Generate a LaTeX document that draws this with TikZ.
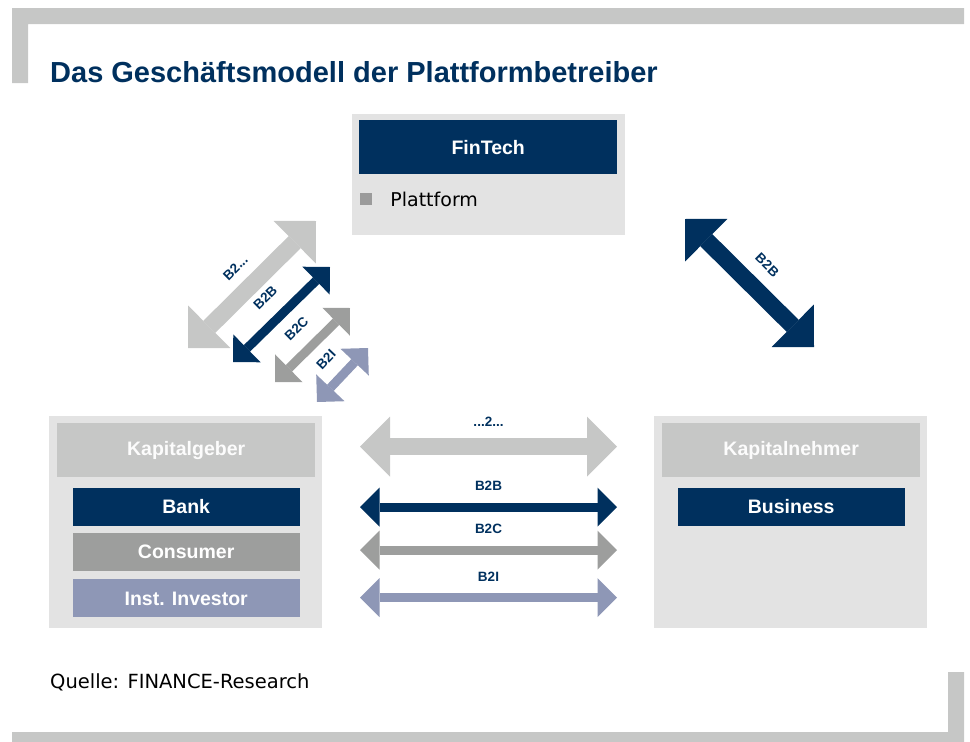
\documentclass[tikz,border=0pt]{standalone}
\usepackage{fontspec}
\setmainfont{Liberation Sans}
\newfontfamily\regfont{DejaVu Sans}
\usetikzlibrary{positioning,arrows.meta}

\definecolor{finblue}{HTML}{00305E}
\definecolor{bggrey}{HTML}{E3E3E3}
\definecolor{headgrey}{HTML}{C6C7C6}
\definecolor{midgrey}{HTML}{9D9E9D}
\definecolor{invblue}{HTML}{8E97B6}
\definecolor{bulletgrey}{HTML}{9B9B9B}

\tikzset{
  panel/.style={fill=bggrey, anchor=north west, inner sep=0pt, minimum width=273pt},
  headbox/.style={fill=headgrey, text=white!95!headgrey, font=\bfseries\fontsize{19.5}{22}\selectfont, inner sep=0pt, minimum width=258pt, minimum height=54pt},
  rolebox/.style={fill=#1, text=white, font=\bfseries\fontsize{19.5}{22}\selectfont, inner sep=0pt, minimum width=227pt, minimum height=38pt},
  lbl/.style={font=\bfseries\fontsize{13.5}{15}\selectfont, text=finblue, inner sep=0pt},
  bigarrow/.style={draw=#1, line width=17pt, {Triangle[width=60pt,length=30pt,line width=0pt]}-{Triangle[width=60pt,length=30pt,line width=0pt]}},
  smallarrow/.style={draw=#1, line width=9pt, {Triangle[width=39pt,length=19.5pt,line width=0pt]}-{Triangle[width=39pt,length=19.5pt,line width=0pt]}}
}

\begin{document}
\begin{tikzpicture}[x=1pt, y=-1pt]
\useasboundingbox (0,0) rectangle (970,742);

\fill[headgrey] (12,8) -- (964,8) -- (964,24) -- (28,24) -- (28,83) -- (12,83) -- cycle;
\fill[headgrey] (12,732) -- (948,732) -- (948,672) -- (964,672) -- (964,742) -- (12,742) -- cycle;

\node[anchor=base west, font=\bfseries\fontsize{29}{34}\selectfont, text=finblue, inner sep=0pt] (titel) at (50,82) {Das Geschäftsmodell der Plattformbetreiber};

\node[panel, minimum height=121pt] (fintechpanel) at (352,114) {};
\node[fill=finblue, text=white, font=\bfseries\fontsize{19.5}{22}\selectfont, inner sep=0pt, minimum width=258pt, minimum height=54pt, below right=6pt and 7pt of fintechpanel.north west] (fintech) {FinTech};
\node[fill=bulletgrey, inner sep=0pt, minimum size=12pt] (punkt) at (366,199) {};
\node[right=18pt of punkt, inner sep=0pt, font=\regfont\fontsize{19}{22}\selectfont] (plattform) {Plattform};

\node[panel, minimum height=212pt] (geberpanel) at (49,416) {};
\node[headbox, below right=7pt and 8pt of geberpanel.north west] (geber) {Kapitalgeber};
\node[rolebox=finblue, below=10pt of geber] (bank) {Bank};
\node[rolebox=midgrey, below=7pt of bank] (consumer) {Consumer};
\node[rolebox=invblue, below=8pt of consumer] (investor) {Inst. Investor};

\node[panel, minimum height=212pt] (nehmerpanel) at (654,416) {};
\node[headbox, below right=7pt and 8pt of nehmerpanel.north west] (nehmer) {Kapitalnehmer};
\node[rolebox=finblue, below=10pt of nehmer] (business) {Business};

\coordinate (anyl) at (188,348);
\coordinate (anyr) at (316,221);
\coordinate (b2bl) at (233,362);
\coordinate (b2br) at (330,267);
\coordinate (b2cl) at (275,382);
\coordinate (b2cr) at (350,308);
\coordinate (b2il) at (317,402);
\coordinate (b2ir) at (368,348);
\coordinate (techb2b) at (685,219);
\coordinate (nehmerb2b) at (814,347);

\draw[bigarrow=headgrey] (anyl) -- node[lbl, sloped, above=10.5pt] {B2...} (anyr);
\draw[smallarrow=finblue] (b2bl) -- node[lbl, sloped, above=14pt] {B2B} (b2br);
\draw[smallarrow=midgrey] (b2cl) -- node[lbl, sloped, above=13.5pt] {B2C} (b2cr);
\draw[smallarrow=invblue] (b2il) -- node[lbl, sloped, above=13.5pt] {B2I} (b2ir);
\draw[bigarrow=finblue] (techb2b) -- node[lbl, sloped, above=12pt] {B2B} (nehmerb2b);

\coordinate (h0l) at (360,446.5);
\coordinate (h0r) at (617,446.5);
\coordinate (h1l) at (360,507);
\coordinate (h1r) at (617,507);
\coordinate (h2l) at (360,550);
\coordinate (h2r) at (617,550);
\coordinate (h3l) at (360,597.5);
\coordinate (h3r) at (617,597.5);

\draw[bigarrow=headgrey] (h0l) -- node[lbl, above=12pt] {...2...} (h0r);
\draw[smallarrow=finblue] (h1l) -- node[lbl, above=12pt] {B2B} (h1r);
\draw[smallarrow=midgrey] (h2l) -- node[lbl, above=12pt] {B2C} (h2r);
\draw[smallarrow=invblue] (h3l) -- node[lbl, above=12pt] {B2I} (h3r);

\node[anchor=base west, inner sep=0pt, font=\regfont\fontsize{19.5}{22}\selectfont] (quelle) at (50,688) {Quelle: FINANCE-Research};

\end{tikzpicture}
\end{document}
